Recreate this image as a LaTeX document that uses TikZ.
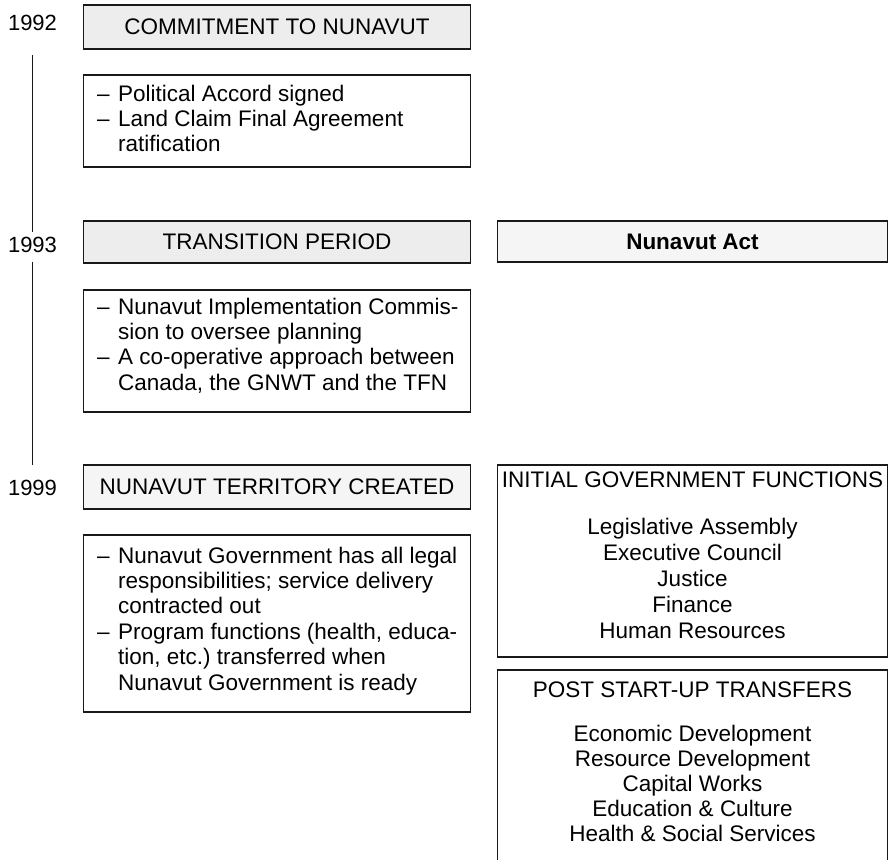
\documentclass[tikz,border=0pt]{standalone}
\usepackage{fontspec}
\setmainfont{Liberation Sans}
\frenchspacing
\newcommand\itemdash{\makebox[21pt][l]{–}}
\newcommand\itemind{\hspace*{21pt}}
\begin{document}
\begin{tikzpicture}[x=1pt,y=-1pt,
  box/.style={draw=black!90, line width=1.5pt, inner sep=0pt},
  lbox/.style={box, minimum width=387pt},
  rbox/.style={box, minimum width=390pt},
  shadeA/.style={fill=black!7},
  shadeB/.style={fill=black!4},
  txt/.style={font=\fontsize{22.5}{25.4}\selectfont, inner sep=0pt},
  body/.style={txt, align=left, anchor=north west},
  clist/.style={font=\fontsize{22.5}{26}\selectfont, inner sep=0pt, align=center, anchor=north},
  year/.style={font=\fontsize{22}{25}\selectfont, inner sep=0pt},
  tl/.style={line width=1.6pt, draw=black!90}]

\useasboundingbox (0,0) rectangle (888,859);

% years and timeline
\node[year] (y92) at (32.5,23) {1992};
\node[year] (y93) at (32.5,245) {1993};
\node[year] (y99) at (32.5,488) {1999};
\draw[tl] ([yshift=-32pt]y92.center) -- ([yshift=13pt]y93.center);
\draw[tl] ([yshift=-17pt]y93.center) -- ([yshift=23pt]y99.center);

% left column
\node[lbox, shadeA, minimum height=44pt, txt] (commit) at (277,27) {COMMITMENT TO NUNAVUT};
\node[lbox, minimum height=92pt] (accord) at (277,121) {};
\node[body] (accordT) at (97,84.5) {\itemdash Political Accord signed\\ \itemdash Land Claim Final Agreement\\ \itemind ratification};

\node[lbox, shadeA, minimum height=42pt, txt] (trans) at (277,242) {TRANSITION PERIOD};
\node[lbox, minimum height=122pt] (impl) at (277,351) {};
\node[body] (implT) at (97,297.5) {\itemdash Nunavut Implementation Commis-\\ \itemind sion to oversee planning\\ \itemdash A co-operative approach between\\ \itemind Canada, the GNWT and the TFN};

\node[lbox, shadeB, minimum height=44pt, txt] (terr) at (277,487) {NUNAVUT TERRITORY CREATED};
\node[lbox, minimum height=177pt] (gov) at (277,623.5) {};
\node[body] (govT) at (97,546.5) {\itemdash Nunavut Government has all legal\\ \itemind responsibilities; service delivery\\ \itemind contracted out\\ \itemdash Program functions (health, educa-\\ \itemind tion, etc.) transferred when\\ \itemind Nunavut Government is ready};

% right column
\node[rbox, shadeB, minimum height=41pt, txt, font=\fontsize{22.5}{25.4}\selectfont\bfseries] (act) at (692.5,241.5) {Nunavut Act};

\node[rbox, minimum height=192pt] (init) at (692.5,561) {};
\node[txt] (initT) at (692.5,480) {INITIAL GOVERNMENT FUNCTIONS};
\node[clist] (initL) at (692.5,518) {Legislative Assembly\\ Executive Council\\ Justice\\ Finance\\ Human Resources};

\node[rbox, minimum height=200pt] (post) at (692.5,770) {};
\node[txt] (postT) at (692.5,690) {POST START-UP TRANSFERS};
\node[clist, font=\fontsize{22.5}{25}\selectfont] (postL) at (692.5,724.7) {Economic Development\\ Resource Development\\ Capital Works\\ Education \& Culture\\ Health \& Social Services};
\end{tikzpicture}
\end{document}
